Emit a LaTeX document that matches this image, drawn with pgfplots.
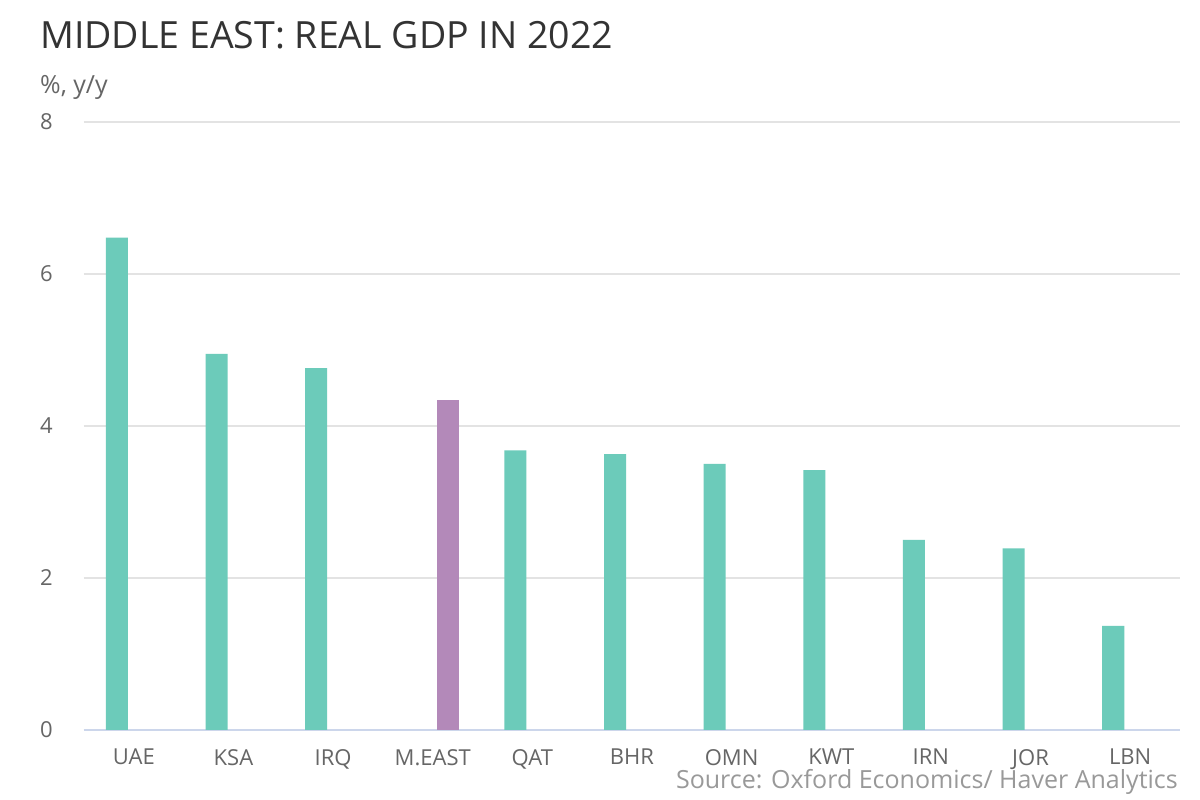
\documentclass[border=0pt]{standalone}
\usepackage{pgfplots}
\pgfplotsset{compat=1.18}
\usepackage{fontspec}
\setmainfont{Open Sans}
\definecolor{teal1}{HTML}{6CCBBA}
\definecolor{purp1}{HTML}{B389B9}
\definecolor{gridc}{HTML}{E3E3E3}
\definecolor{axisc}{HTML}{CCD6EB}
\definecolor{lab}{HTML}{666666}
\definecolor{ttl}{HTML}{333333}
\definecolor{src}{HTML}{999999}
\begin{document}
\begin{tikzpicture}[x=1pt,y=1pt]
\path[use as bounding box, fill=white] (0,0) rectangle (1200,800);
\node[anchor=base west, inner sep=0pt, text=ttl, font=\fontsize{37.5}{42}\selectfont] at (40,751) {MIDDLE EAST: REAL GDP IN 2022};
\node[anchor=base west, inner sep=0pt, text=lab, font=\fontsize{25}{29}\selectfont] at (40,706) {\%, y/y};
\begin{axis}[
  at={(84pt,70pt)}, anchor=south west,
  scale only axis, width=1096pt, height=608pt,
  xmin=-0.5, xmax=10.5, ymin=0, ymax=8,
  ytick={0,2,4,6,8},
  xtick={0,1,2,3,4,5,6,7,8,9,10},
  xticklabels={UAE,KSA,IRQ,M.EAST,QAT,BHR,OMN,KWT,IRN,JOR,LBN},
  /pgf/number format/assume math mode=true,
  major tick length=0pt,
  ymajorgrids, grid style={gridc, line width=1.5pt},
  axis lines*=left,
  x axis line style={axisc, line width=1.5pt, -},
  y axis line style={draw=none, -},
  tick label style={text=lab, font=\fontsize{22}{26}\selectfont},
  xticklabel style={anchor=north, inner sep=0pt, yshift=-19pt},
  yticklabel style={anchor=west, inner sep=0pt, xshift=-44pt},
  ybar, bar width=0.221,
  clip=false,
]
\addplot[fill=teal1, draw=none, bar shift=-0.17] coordinates {
 (0,6.48) (1,4.95) (2,4.76) (4,3.68) (5,3.63) (6,3.50) (7,3.42) (8,2.50) (9,2.39) (10,1.37)};
\addplot[fill=purp1, draw=none, bar shift=0.15] coordinates {(3,4.34)};
\end{axis}
\node[anchor=base east, inner sep=0pt, text=src, font=\fontsize{25}{29}\selectfont] at (1178,11) {Source: Oxford Economics/ Haver Analytics};
\end{tikzpicture}
\end{document}
